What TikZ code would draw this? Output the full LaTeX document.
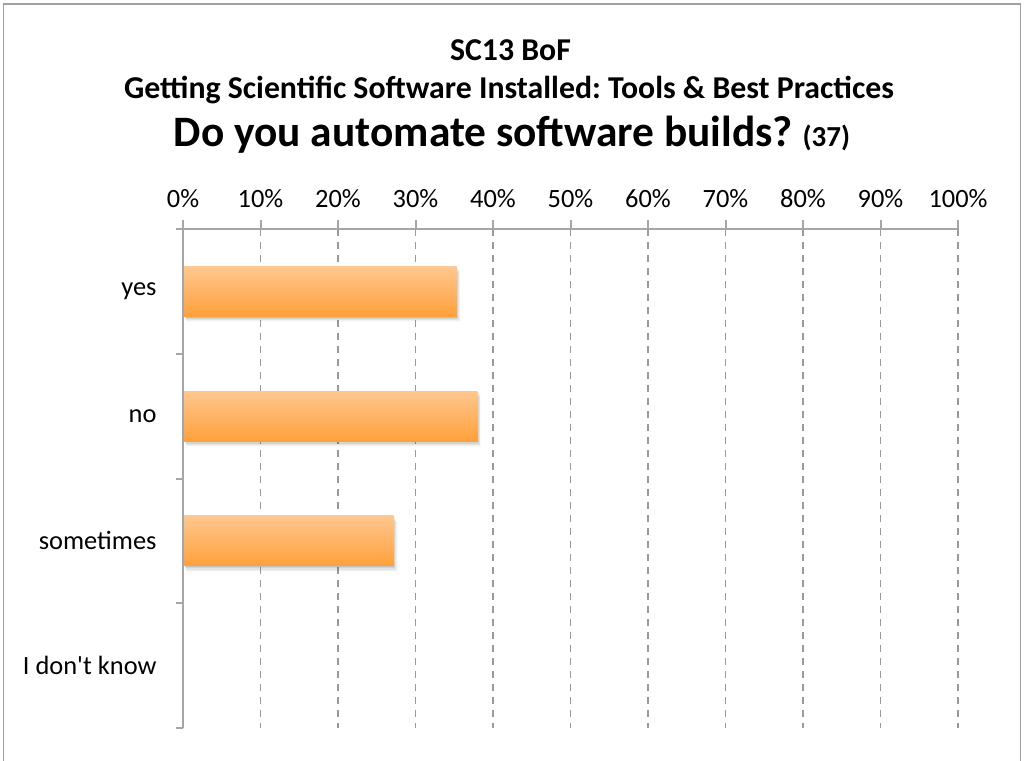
\documentclass[tikz,border=0pt]{standalone}
\usepackage{fontspec}
\setmainfont{Carlito}
\frenchspacing
\definecolor{framegray}{HTML}{A0A0A0}
\definecolor{axisgray}{HTML}{A6A6A6}
\definecolor{gridgray}{HTML}{9A9A9A}
\definecolor{bartop}{HTML}{FFC78F}
\definecolor{barbot}{HTML}{FFA03A}
\begin{document}
\begin{tikzpicture}[x=1pt,y=-1pt,
  axisline/.style={draw=axisgray,line width=2pt},
  gridline/.style={draw=gridgray,line width=1.8pt,dash pattern=on 7pt off 6pt},
  ticklabel/.style={font=\fontsize{26.4}{30}\selectfont,anchor=base},
  catlabel/.style={font=\fontsize{26.4}{30}\selectfont,anchor=east},
  barshape/.style={top color=bartop,bottom color=barbot,draw=none},
  titlefont/.style={font=\bfseries\fontsize{31.8}{36}\selectfont,anchor=base}]
\useasboundingbox (0,0) rectangle (1024,760);
\fill[white] (0,0) rectangle (1024,760);
\draw[framegray,line width=1.5pt] (3.5,770) -- (3.5,4) -- (1020.5,4) -- (1020.5,770);
% titles
\node[titlefont] (t1) at (510.5,60.5) {SC13 BoF};
\node[titlefont] (t2) at (509,98) {Getting Scientific Software Installed: Tools \& Best Practices};
\node[anchor=base,font=\bfseries\fontsize{43.4}{48}\selectfont] (t3) at (512,146) {Do you automate software builds? {\fontsize{29}{32}\selectfont(37)}};
% gridlines
\foreach \i in {1,...,10}{
  \coordinate (gt\i) at (183+77.5*\i,229);
  \coordinate (gb\i) at (183+77.5*\i,728);
  \draw[gridline] (gt\i) -- (gb\i);
  \draw[axisline] (183+77.5*\i,220) -- (gt\i);
}
% tick labels
\foreach \i in {0,...,10}{
  \pgfmathtruncatemacro{\p}{10*\i}
  \node[ticklabel] (tl\i) at (183+77.5*\i,207) {\p\%};
}
% axes
\coordinate (ax0) at (175.5,229);
\coordinate (ax1) at (958,229);
\coordinate (ay0) at (183,220);
\coordinate (ay1) at (183,728);
\draw[axisline] (ax0) -- (ax1);
\draw[axisline] (ay0) -- (ay1);
\foreach \y in {353.75,478.5,603.25,728}{
  \draw[axisline] (175.5,\y) -- (183,\y);
}
% bars with soft shadow
\foreach \w/\c/\n in {272.3/291.4/yes,293.2/416.1/no,209.5/540.9/some}{
  \foreach \k/\o in {1/0.09,2/0.07,3/0.05,4/0.035,5/0.02}{
    \fill[black,opacity=\o] (184+\k*0.6,\c-25+\k*1.2) rectangle (184+\w+\k*0.8,\c+25+\k*1.2);
  }
  \node[barshape,minimum width=\w pt,minimum height=50pt,inner sep=0pt,anchor=west] (bar\n) at (184,\c) {};
}
% category labels
\node[catlabel] (cy) at (160,291.4) {yes};
\node[catlabel] (cn) at (160,416.1) {no};
\node[catlabel] (cs) at (160,540.9) {sometimes};
\node[catlabel] (cd) at (160,665.6) {I don\textquotesingle t know};
\end{tikzpicture}
\end{document}
